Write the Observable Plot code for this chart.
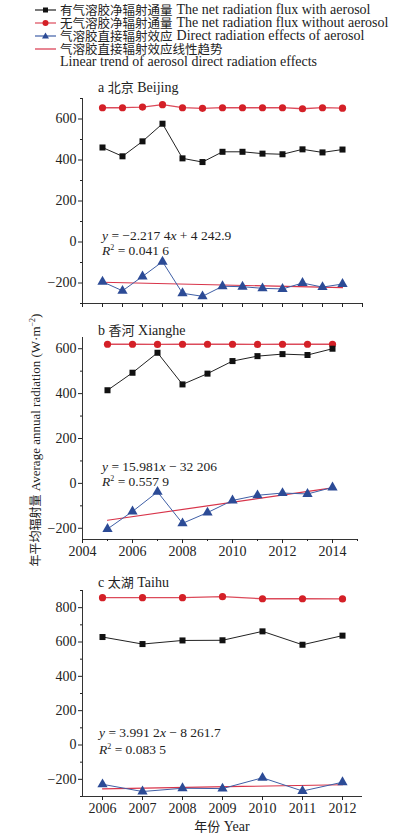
<!DOCTYPE html>
<html><head><meta charset="utf-8">
<script src="https://cdn.jsdelivr.net/npm/d3@7"></script>
<script src="https://cdn.jsdelivr.net/npm/@observablehq/plot@0.6"></script>
<style>
html,body{margin:0;padding:0;background:#fff;}
#wrap{position:relative;width:397px;height:837px;overflow:hidden;background:#fff;font-family:"Liberation Serif","Noto Sans CJK SC",serif;color:#222;}
.t{position:absolute;font-size:13px;line-height:14px;white-space:nowrap;}
.leg{position:absolute;left:35px;font-size:14px;line-height:12px;height:12px;white-space:nowrap;display:flex;align-items:center;}
.leg svg{margin-right:4px;flex:none;}
.leg span{display:inline-block;line-height:12px;height:12px;}
.zh{font-size:12.5px;font-family:"Noto Sans CJK SC",sans-serif;}
i{font-style:italic;}
.abs{position:absolute;left:0;}
</style></head>
<body><div id="wrap"></div>
<script>
// ---------- data ----------
const yearsA = [2002, 2003, 2004, 2005, 2006, 2007, 2008, 2009, 2010, 2011, 2012, 2013, 2014];
const withA = [461, 418, 491, 577, 408, 390, 440, 440, 431, 428, 452, 437, 451];
const withoutA = [655, 655, 658, 670, 655, 652, 655, 655, 655, 655, 650, 655, 653];
const effectA = [-194, -238, -168, -96, -250, -265, -216, -218, -226, -229, -200, -220, -205];
const trendA = {slope: -2.2174, intercept: 4242.9};

const yearsB = [2005, 2006, 2007, 2008, 2009, 2010, 2011, 2012, 2013, 2014];
const withB = [415, 493, 582, 441, 489, 545, 567, 576, 572, 600];
const withoutB = [620, 620, 619, 620, 620, 620, 619, 620, 620, 620];
const effectB = [-203, -125, -38, -178, -130, -76, -53, -43, -47, -18];
const trendB = {slope: 15.981, intercept: -32206};

const yearsC = [2006, 2007, 2008, 2009, 2010, 2011, 2012];
const withC = [629, 588, 609, 610, 662, 584, 637];
const withoutC = [858, 858, 858, 864, 852, 852, 851];
const effectC = [-229, -271, -252, -254, -191, -268, -217];
const trendC = {slope: 3.9912, intercept: -8261.7};

const legendZh = ["有气溶胶净辐射通量", "无气溶胶净辐射通量", "气溶胶直接辐射效应", "气溶胶直接辐射效应线性趋势", ""];
const legendEn = [
  "The net radiation flux with aerosol",
  "The net radiation flux without aerosol",
  "Direct radiation effects of aerosol",
  "",
  "Linear trend of aerosol direct radiation effects"
];
const panelTitles = [["a", "北京", "Beijing"], ["b", "香河", "Xianghe"], ["c", "太湖", "Taihu"]];
const equations = [
  ["−2.217 4", "+ 4 242.9", "0.041 6"],
  ["15.981", "− 32 206", "0.557 9"],
  ["3.991 2", "− 8 261.7", "0.083 5"]
];
const yLabelZh = "年平均辐射量";
const yLabelEn = "Average annual radiation (W·m<sup>−2</sup>)";
const xLabelZh = "年份";
const xLabelEn = "Year";

const ticksA = {x: [2001,2002,2003,2004,2005,2006,2007,2008,2009,2010,2011,2012,2013,2014,2015], y: [-200,0,200,400,600], yMinor: [-300,-100,100,300,500,700]};
const ticksB = {x: [2004,2006,2008,2010,2012,2014], xMinor: [2005,2007,2009,2011,2013,2015], y: [-200,0,200,400,600], yMinor: [-100,100,300,500]};
const ticksC = {x: [2006,2007,2008,2009,2010,2011,2012], y: [-200,0,200,400,600,800], yMinor: [-300,-100,100,300,500,700,900]};

// ---------- colors ----------
const C = {black:"#111", blackLine:"#222", red:"#d42027", redLine:"#dc4a5a", blue:"#2c4b96", blueLine:"#3f5fa6", trend:"#d8344a"};

const wrap = document.getElementById("wrap");

function rowsOf(years, a, b, c) {
  return years.map((yr, i) => ({year: yr, withA: a[i], withoutA: b[i], effect: c[i]}));
}
function trendRows(years, t) {
  const x0 = years[0], x1 = years[years.length - 1];
  return [{year: x0, v: t.slope * x0 + t.intercept}, {year: x1, v: t.slope * x1 + t.intercept}];
}

function panel(o) {
  const rows = rowsOf(o.years, o.a, o.b, o.c);
  const marks = [
    Plot.ruleX([o.xDomain[0]], {stroke: "#333", strokeWidth: 1}),
    Plot.ruleY([o.yDomain[0]], {stroke: "#333", strokeWidth: 1}),
    Plot.axisY({ticks: o.ticks.y, tickSize: 4, tickPadding: 2, label: null, fontSize: 14}),
    Plot.axisY({ticks: o.ticks.yMinor, tickSize: 2, tickFormat: () => "", label: null}),
    o.xShow
      ? Plot.axisX({ticks: o.ticks.x, tickSize: 4, tickPadding: 3, tickFormat: d => String(d), label: null, fontSize: 14})
      : Plot.axisX({ticks: o.ticks.x, tickSize: 4, tickFormat: () => "", label: null}),
    o.ticks.xMinor ? Plot.axisX({ticks: o.ticks.xMinor, tickSize: 2, tickFormat: () => "", label: null}) : null,
    Plot.line(trendRows(o.years, o.trend), {x: "year", y: "v", stroke: C.trend, strokeWidth: 1.2}),
    Plot.line(rows, {x: "year", y: "withoutA", stroke: C.redLine, strokeWidth: 1.3}),
    Plot.dot(rows, {x: "year", y: "withoutA", r: 3.6, fill: C.red, stroke: "none"}),
    Plot.line(rows, {x: "year", y: "withA", stroke: C.blackLine, strokeWidth: 1}),
    Plot.dot(rows, {x: "year", y: "withA", symbol: "square", r: 3.4, fill: C.black, stroke: "none"}),
    Plot.line(rows, {x: "year", y: "effect", stroke: C.blueLine, strokeWidth: 1}),
    Plot.dot(rows, {x: "year", y: "effect", symbol: "triangle", r: 3.8, fill: C.blue, stroke: "none"})
  ].filter(Boolean);
  const svg = Plot.plot({
    width: 397, height: o.height,
    marginLeft: 82, marginRight: o.marginRight, marginTop: o.marginTop, marginBottom: o.marginBottom,
    x: {domain: o.xDomain, axis: null},
    y: {domain: o.yDomain, axis: null},
    style: {fontFamily: '"Liberation Serif","Noto Sans CJK SC",serif', fontSize: "14px", color: "#222", background: "transparent", overflow: "visible"},
    marks
  });
  svg.classList.add("abs");
  svg.style.top = o.top + "px";
  wrap.appendChild(svg);
}

panel({years: yearsA, a: withA, b: withoutA, c: effectA, trend: trendA,
  xDomain: [2001, 2015], yDomain: [-300, 700], ticks: ticksA, xShow: false,
  top: 75, height: 240, marginTop: 23, marginBottom: 12, marginRight: 35});
panel({years: yearsB, a: withB, b: withoutB, c: effectB, trend: trendB,
  xDomain: [2004, 2015], yDomain: [-250, 650], ticks: ticksB, xShow: true,
  top: 315, height: 244, marginTop: 22, marginBottom: 20, marginRight: 40});
panel({years: yearsC, a: withC, b: withoutC, c: effectC, trend: trendC,
  xDomain: [2005.5, 2012.5], yDomain: [-300, 900], ticks: ticksC, xShow: true,
  top: 568, height: 269, marginTop: 22, marginBottom: 41, marginRight: 35});

// ---------- HTML text ----------
function addText(html, left, cy, size) {
  const d = document.createElement("div");
  d.className = "t";
  d.innerHTML = html;
  d.style.left = left + "px";
  d.style.top = (cy - 7) + "px";
  if (size) d.style.fontSize = size + "px";
  wrap.appendChild(d);
  return d;
}

// legend
const legendMarks = [
  {line: C.blackLine, sym: "square", fill: C.black},
  {line: C.redLine, sym: "circle", fill: C.red},
  {line: C.blueLine, sym: "triangle", fill: C.blue},
  {line: C.trend, sym: null},
  null
];
const legendY = [10, 23, 36, 49, 62];
legendEn.forEach((en, i) => {
  const d = document.createElement("div");
  d.className = "leg";
  d.style.top = (legendY[i] - 6) + "px";
  const m = legendMarks[i];
  let sw = '<svg width="21" height="10" style="visibility:' + (m ? "visible" : "hidden") + '">';
  if (m) {
    sw += '<line x1="0" y1="5" x2="21" y2="5" stroke="' + m.line + '" stroke-width="1.2"/>';
    if (m.sym === "square") sw += '<rect x="8" y="2.5" width="5" height="5" fill="' + m.fill + '"/>';
    if (m.sym === "circle") sw += '<circle cx="10.5" cy="5" r="3" fill="' + m.fill + '"/>';
    if (m.sym === "triangle") sw += '<path d="M10.5 1.5 L14 7.5 L7 7.5 Z" fill="' + m.fill + '"/>';
  }
  sw += '</svg>';
  let html = sw;
  if (legendZh[i]) html += '<span class="zh">' + legendZh[i] + '</span>';
  if (legendZh[i] && en) html += '<span style="width:4px"></span>';
  if (en) html += '<span>' + en + '</span>';
  d.innerHTML = html;
  wrap.appendChild(d);
});

// panel titles
const titleY = [87, 330, 582];
panelTitles.forEach((t, i) => addText(t[0] + ' <span class="zh" style="font-size:13px">' + t[1] + '</span> ' + t[2], 98, titleY[i], 14));

// equations
const eqPos = [[102, 236, 251], [102, 467, 482], [99, 733, 750]];
const sup = s => s.replace("<sup>", '<sup style="font-size:8px;vertical-align:5px;line-height:0">');
equations.forEach((e, i) => {
  const [x, y1, y2] = eqPos[i];
  addText('<i>y</i> = ' + e[0] + '<i>x</i> ' + e[1], x, y1, 13.5);
  addText(sup('<i>R</i><sup>2</sup> = ' + e[2]), x, y2, 13.5);
});

// y label (rotated)
const yl = addText('<span class="zh" style="font-size:12px">' + yLabelZh + '</span> ' + sup(yLabelEn), 0, 0, 13);
yl.style.left = "35px";
yl.style.top = "440px";
yl.style.transform = "translate(-50%,-50%) rotate(-90deg)";

// x label
const xl = addText('<span class="zh" style="font-size:13px">' + xLabelZh + '</span> ' + xLabelEn, 222, 826, 14);
xl.style.transform = "translateX(-50%)";
</script>
</body></html>
